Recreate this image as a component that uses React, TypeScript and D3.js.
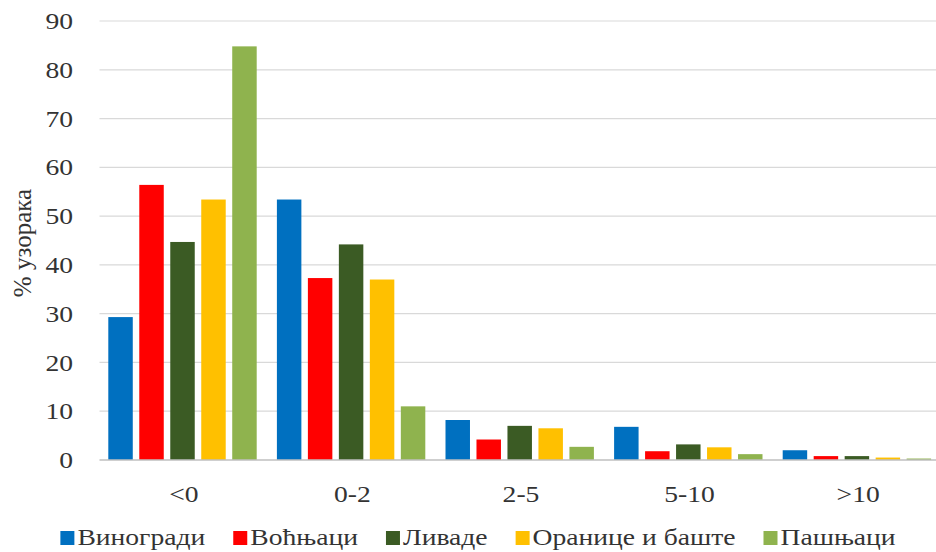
import React, { useLayoutEffect, useRef, useState } from 'react';
import * as d3 from 'd3';

const categories = ['<0', '0-2', '2-5', '5-10', '>10'];
const seriesNames = ['Виногради', 'Воћњаци', 'Ливаде', 'Оранице и баште', 'Пашњаци'];
const seriesColors = ['#0070C0', '#FF0000', '#3B5B24', '#FFC000', '#8FB34E'];
const vinogradi = [29.3, 53.4, 8.2, 6.8, 2.0];
const vocnjaci = [56.4, 37.3, 4.2, 1.8, 0.8];
const livade = [44.7, 44.2, 7.0, 3.2, 0.8];
const oranice = [53.4, 37.0, 6.5, 2.6, 0.5];
const pasnjaci = [84.8, 11.0, 2.7, 1.2, 0.3];
const yTicks = [0, 10, 20, 30, 40, 50, 60, 70, 80, 90];
const yTitle = '% узорака';

const W = 936;
const H = 552;
const FONT = '"Liberation Serif"';
const SX = 1.2;
const TEXT = '#333333';

const values = [vinogradi, vocnjaci, livade, oranice, pasnjaci];
const left = 99.5, right = 942.5, top = 21, bottom = 460;

const y = d3.scaleLinear().domain([0, 90]).range([bottom, top]);
const x0 = d3.scaleBand<string>().domain(categories).range([left, right]).padding(0);
const x1 = d3.scaleBand<string>().domain(seriesNames).range([8.8, 157.2]).paddingInner(0.21).paddingOuter(0);

const txt = { fontFamily: FONT, fontSize: 23, fill: TEXT } as React.CSSProperties;

export default function App() {
  const textRefs = useRef<(SVGTextElement | null)[]>([]);
  const [widths, setWidths] = useState<number[]>(seriesNames.map(() => 120));

  useLayoutEffect(() => {
    const w = textRefs.current.map(t => (t ? t.getComputedTextLength() * SX + 17 : 120));
    setWidths(w);
  }, []);

  const gap = 28;
  const total = d3.sum(widths) + gap * (widths.length - 1);
  const legendX: number[] = [];
  let cx = 478 - total / 2;
  widths.forEach(w => { legendX.push(cx); cx += w + gap; });

  return (
    <svg width={W} height={H} style={{ position: 'absolute', left: 0, top: 0, background: '#ffffff' }}>
      {yTicks.filter(t => t > 0).map(t => (
        <line key={'g' + t} x1={left} x2={W} y1={y(t)} y2={y(t)} stroke="#d9d9d9" strokeWidth={1.2} />
      ))}
      {yTicks.map(t => (
        <g key={'yt' + t} transform={`translate(73,${y(t)})`}>
          <text transform={`scale(${SX},1)`} textAnchor="end" dy="0.35em" style={txt}>{t}</text>
        </g>
      ))}
      {categories.map((c, ci) => (
        <g key={c} transform={`translate(${x0(c)},0)`}>
          {seriesNames.map((s, si) => (
            <rect key={s} x={x1(s)} width={x1.bandwidth()} y={y(values[si][ci])}
              height={bottom - y(values[si][ci])} fill={seriesColors[si]} />
          ))}
        </g>
      ))}
      <line x1={left} x2={W} y1={bottom} y2={bottom} stroke="#bfbfbf" strokeWidth={1.5} />
      {categories.map(c => (
        <g key={'c' + c} transform={`translate(${x0(c)! + x0.bandwidth() / 2},502)`}>
          <text transform={`scale(${SX},1)`} textAnchor="middle" style={txt}>{c}</text>
        </g>
      ))}
      <g transform="translate(31,243)">
        <text transform="rotate(-90)" textAnchor="middle" style={{ ...txt, fontSize: 25 }}>{yTitle}</text>
      </g>
      {seriesNames.map((s, i) => (
        <g key={'l' + s} transform={`translate(${legendX[i]},545)`}>
          <rect x={0} y={-14} width={14} height={14} fill={seriesColors[i]} />
          <g transform="translate(17,0)">
            <text ref={el => { textRefs.current[i] = el; }} transform={`scale(${SX},1)`} style={txt}>{s}</text>
          </g>
        </g>
      ))}
    </svg>
  );
}
